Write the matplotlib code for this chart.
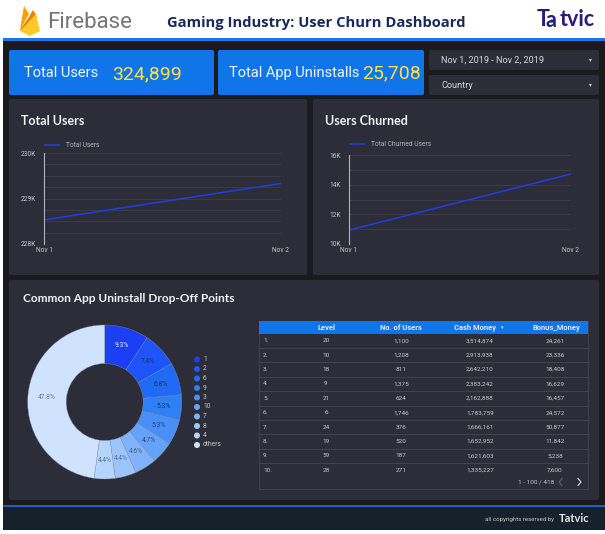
import matplotlib
matplotlib.use('Agg')
import matplotlib.pyplot as plt
from matplotlib.patches import FancyBboxPatch, Rectangle, Polygon, Circle

W, H = 605, 534

plt.rcParams['font.family'] = ['Roboto', 'DejaVu Sans']

# data
dates = ['Nov 1', 'Nov 2']
total_users = [228.53, 229.33]
churned_users = [10.94, 14.72]
users_ticks = [228, 228.25, 228.5, 228.75, 229, 229.25, 229.5, 229.75, 230]
users_labels = ['228K', '', '', '', '229K', '', '', '', '230K']
churn_ticks = [10, 11, 12, 13, 14, 15, 16]
churn_labels = ['10K', '', '12K', '', '14K', '', '16K']

pie_names = ['1', '2', '6', '9', '3', '10', '7', '8', '4', 'others']
pie_values = [9.3, 7.4, 6.8, 5.3, 5.3, 4.7, 4.6, 4.4, 4.4, 47.8]
pie_colors = ['#1c3ff5', '#1e55fa', '#1f6af7', '#2f7ff6', '#4a8ff7',
              '#65a2fa', '#80b3fb', '#9cc5fc', '#b6d5fd', '#cfe3fe']
pie_text = ['#e6ecff', '#20305a', '#20305a', '#20305a', '#2d3f6a',
            '#2d3f6a', '#4b5a7c', '#5a6b8c', '#5a6b8c', '#6b7a92']

table_head = ['Level', 'No. of Users', 'Cash Money', 'Bonus_Money']
levels = ['20', '10', '18', '9', '21', '6', '24', '19', '59', '28']
users = ['1,100', '1,208', '811', '1,375', '624', '1,746', '376', '520', '187', '271']
cash = ['3,514,874', '2,913,938', '2,642,210', '2,383,242', '2,162,888',
        '1,783,759', '1,666,161', '1,652,952', '1,621,603', '1,335,227']
bonus = ['24,261', '23,336', '18,408', '16,629', '16,457',
         '24,572', '50,877', '11,842', '5,238', '7,600']

PANEL = '#2c2d38'
BLUE = '#1175ea'
GRID = '#3b3c47'
TXT = '#d6d6da'

fig = plt.figure(figsize=(W / 100, H / 100), dpi=100, facecolor='white')

# everything except the charts is placed on a pixel canvas
bg = fig.add_axes([0, 0, 1, 1])
bg.set_xlim(0, W)
bg.set_ylim(H, 0)
bg.axis('off')


def rect(x0, y0, x1, y1, color, round_px=0):
    if round_px:
        bg.add_patch(FancyBboxPatch((x0 + round_px, y0 + round_px), x1 - x0 - 2 * round_px,
                                    y1 - y0 - 2 * round_px,
                                    boxstyle='round,pad=%d,rounding_size=%d' % (round_px, round_px),
                                    fc=color, ec='none'))
    else:
        bg.add_patch(Rectangle((x0, y0), x1 - x0, y1 - y0, fc=color, ec='none'))


def px_axes(x0, y0, x1, y1):
    return fig.add_axes([x0 / W, 1 - y1 / H, (x1 - x0) / W, (y1 - y0) / H])


# page
rect(3, 41, W, 505, '#1b1b1e')
rect(3, 38, W, 41, '#1d77e0')
rect(3, 507, W, 530, '#17212b')
rect(3, 505, W, 507, '#1565c0')

# firebase logo
bg.add_patch(Polygon([(20, 30), (24, 6), (29, 14), (20, 30)], fc='#ffa000', ec='none'))
bg.add_patch(Polygon([(20, 30), (29, 17), (33, 10), (36, 15), (39, 30)], fc='#f57c00', ec='none'))
bg.add_patch(Polygon([(20, 31), (36, 14), (40, 31), (30, 36)], fc='#ffca28', ec='none'))
bg.text(47, 23, 'Firebase', fontsize=16, color='#757575', va='center', family=['Roboto'])

bg.text(316, 22.5, 'Gaming Industry: User Churn Dashboard', fontsize=10.6, fontweight='bold',
        color='#17295c', ha='center', va='center', family=['Open Sans'])

# tatvic logo
bg.text(537, 20, 'T', fontsize=15.5, fontweight='bold', color='#2b1a7a', va='center', family=['Lato'])
bg.text(545, 20.5, 'a', fontsize=15.5, fontweight='bold', color='#2b1a7a', va='center', family=['Lato'])
bg.add_patch(Circle((552, 21), 2, fc='#27c4d8', ec='none'))
bg.text(560, 20, 'tvic', fontsize=15.5, fontweight='bold', color='#2b1a7a', va='center', family=['Lato'])

# kpi boxes
rect(9, 50, 214, 95, BLUE, 2)
rect(218, 50, 424, 95, BLUE, 2)
bg.text(24, 73, 'Total Users', fontsize=10.5, color='#f2f5fb', va='center')
bg.text(112, 74, '324,899', fontsize=14, color='#fde047', va='center')
bg.text(229, 73, 'Total App Uninstalls', fontsize=10.5, color='#f2f5fb', va='center')
bg.text(362, 73, '25,708', fontsize=14, color='#fde047', va='center')

# filters
rect(429, 50, 599, 70, PANEL, 2)
rect(429, 75, 599, 95, PANEL, 2)
bg.text(441, 60, 'Nov 1, 2019 - Nov 2, 2019', fontsize=6.6, color=TXT, va='center')
bg.text(441, 85, 'Country', fontsize=6.6, color=TXT, va='center')
for y in (60, 85):
    bg.text(590, y, '\u25be', fontsize=4, color=TXT, ha='center', va='center', family=['DejaVu Sans'])

# panels
rect(9, 99, 307, 275, PANEL, 2)
rect(313, 99, 599, 275, PANEL, 2)
rect(9, 280, 599, 500, PANEL, 2)
bg.text(21, 121, 'Total Users', fontsize=9, fontweight='bold', color='#f2f2f4', va='center', family=['Lato'])
bg.text(325, 121, 'Users Churned', fontsize=9, fontweight='bold', color='#f2f2f4', va='center', family=['Lato'])
bg.text(23, 298, 'Common App Uninstall Drop-Off Points', fontsize=8.6, fontweight='bold',
        color='#f2f2f4', va='center', family=['Lato'])


def line_chart(box, values, ticks, labels, name, legend_y):
    ax = px_axes(*box)
    ax.set_facecolor('none')
    ax.plot(dates, values, color='#1f3fe0', lw=1.1, label=name, solid_capstyle='butt')
    ax.set_xlim(0, 1)
    ax.set_ylim(ticks[0], ticks[-1])
    ax.set_yticks(ticks)
    ax.set_yticklabels(labels)
    ax.grid(axis='y', color=GRID, lw=0.7)
    ax.set_axisbelow(True)
    for s in ('top', 'right', 'bottom'):
        ax.spines[s].set_visible(False)
    ax.spines['left'].set_color('#b4b4b8')
    ax.spines['left'].set_linewidth(0.8)
    ax.tick_params(length=0, labelsize=4.8, labelcolor='#c8c8cc', pad=6)
    ax.tick_params(axis='x', pad=2)
    ax.set_xticks([0, 1])
    ax.set_xticklabels(dates)
    leg = ax.legend(loc='lower left', bbox_to_anchor=(0, legend_y), frameon=False, fontsize=4.8,
                    handlelength=2.4, handletextpad=0.9, borderpad=0, borderaxespad=0)
    for t in leg.get_texts():
        t.set_color('#b4b4b8')
    return ax


line_chart((44, 153, 281, 244), total_users, users_ticks, users_labels, 'Total Users', 1.04)
line_chart((349, 155, 571, 244), churned_users, churn_ticks, churn_labels, 'Total Churned Users', 1.08)

# donut
r = 77
pie_ax = px_axes(104.7 - r, 402 - r, 104.7 + r, 402 + r)
wedges, _, autos = pie_ax.pie(pie_values, colors=pie_colors, startangle=90, counterclock=False,
                              radius=1, autopct='%.1f%%', pctdistance=0.76,
                              wedgeprops=dict(width=0.5, edgecolor='#8a9ab8', linewidth=0.25),
                              textprops=dict(fontsize=4.8))
for t, c in zip(autos, pie_text):
    t.set_color(c)
pie_ax.set_xlim(-1, 1)
pie_ax.set_ylim(-1, 1)

# donut legend
for i, (name, col) in enumerate(zip(pie_names, pie_colors)):
    y = 359.5 + i * 9.5
    bg.add_patch(Circle((197, y), 3, fc=col, ec='none'))
    bg.text(203, y, name, fontsize=4.8, color='#c8c8cc', va='center')

# table
rect(259, 321, 588, 489, PANEL)
bg.add_patch(Rectangle((259, 321), 329, 168, fc='none', ec='#42434e', lw=0.7))
rect(259, 321, 588, 334, BLUE)
col_x = [326, 401, 480, 555]
head_x = [326, 401, 475, 556]
for x, name in zip(head_x, table_head):
    bg.text(x, 327.5, name, fontsize=5.4, fontweight='bold', color='#e3e9f5', ha='center', va='center')
bg.text(502, 328, '\u25be', fontsize=3.5, color='#e3e9f5', ha='center', va='center', family=['DejaVu Sans'])
for i in range(10):
    y = 340.7 + i * 14.4
    bg.text(263, y, '%d.' % (i + 1), fontsize=4.6, color='#c8c8cc', va='center')
    for x, col in zip(col_x, (levels, users, cash, bonus)):
        bg.text(x, y, col[i], fontsize=4.6, color='#c8c8cc', ha='center', va='center')
    if i < 9:
        bg.plot([259, 588], [y + 7.2, y + 7.2], color='#42434e', lw=0.7)
bg.text(536, 482, '1 - 100 / 418', fontsize=4.6, color='#c8c8cc', ha='center', va='center')
bg.plot([562, 559, 562], [478.5, 482, 485.5], color='#62636e', lw=0.8)
bg.plot([578, 581, 578], [478.5, 482, 485.5], color='#e0e0e4', lw=0.8)

# footer
bg.text(554, 519.5, 'all copyrights reserved by', fontsize=4.4, color='#c8c8cc', ha='right', va='center')
bg.text(559, 518.5, 'Tatvic', fontsize=8, fontweight='bold', color='#e6e6ea', va='center', family=['Lato'])

bg.set_xlim(0, W)
bg.set_ylim(H, 0)
fig.savefig('out.png', dpi=100, facecolor='white')
